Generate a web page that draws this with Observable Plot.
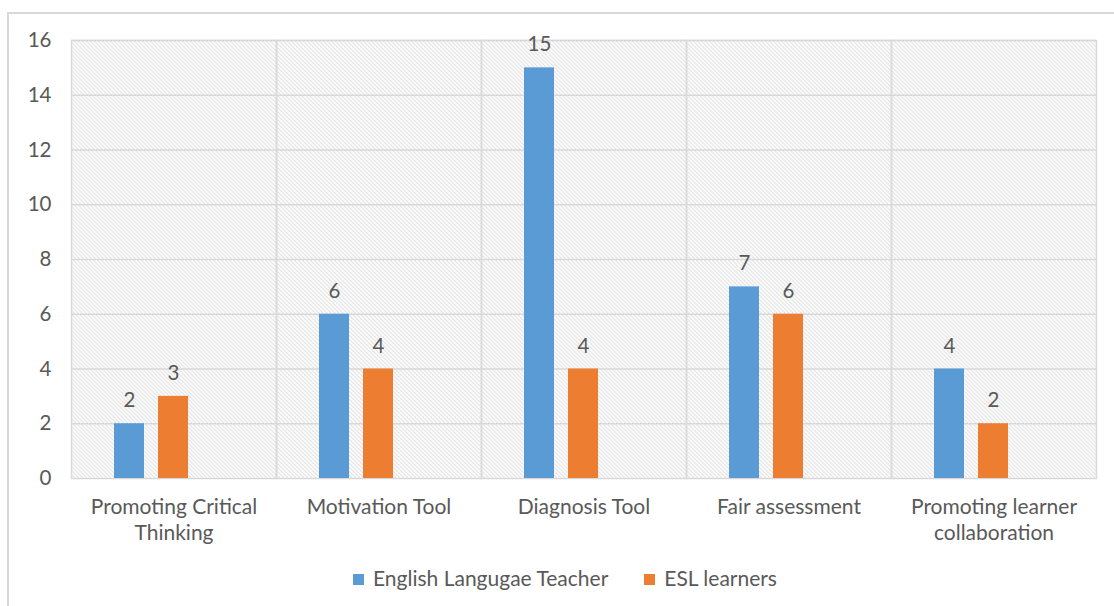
<!DOCTYPE html>
<html><head><meta charset="utf-8">
<script src="https://cdn.jsdelivr.net/npm/d3@7"></script>
<script src="https://cdn.jsdelivr.net/npm/@observablehq/plot@0.6"></script>
<style>
body{margin:0;background:#fff;font-family:Lato,"Open Sans",sans-serif;overflow:hidden;}
#wrap{position:relative;width:1114px;height:606px;overflow:hidden;}
#border{position:absolute;left:7px;top:12px;width:1120px;height:620px;border:2px solid #d9d9d9;box-sizing:border-box;}
#chart{position:absolute;left:0;top:0;}
#legend{position:absolute;left:8px;top:565px;width:1114px;display:flex;justify-content:center;gap:36px;font-size:21px;color:#595959;line-height:26px;}
#legend span.sw{display:inline-block;width:11px;height:11px;margin-right:9px;vertical-align:middle;position:relative;top:-1px;}
</style></head>
<body><div id="wrap"><div id="border"></div><div id="chart"></div><div id="legend"></div></div>
<script>
const categories = ["Promoting Critical Thinking","Motivation Tool","Diagnosis Tool","Fair assessment","Promoting learner collaboration"];
const categoryLabels = ["Promoting Critical\nThinking","Motivation Tool","Diagnosis Tool","Fair assessment","Promoting learner\ncollaboration"];
const series = ["English Langugae Teacher","ESL learners"];
const teacherValues = [2,6,15,7,4];
const eslValues = [3,4,4,6,2];
const colors = ["#5B9BD5","#ED7D31"];
const yTicks = [0,2,4,6,8,10,12,14,16];

const data = [];
categories.forEach((c,i)=>{
  data.push({category:c, series:series[0], value:teacherValues[i]});
  data.push({category:c, series:series[1], value:eslValues[i]});
});
const labelRows = categories.map((c,i)=>({category:c, label:categoryLabels[i]}));

const svg = Plot.plot({
  width:1114, height:550,
  marginLeft:70, marginRight:17, marginTop:40, marginBottom:72,
  style:{fontFamily:"Lato, 'Open Sans', sans-serif", fontSize:"20.5px", color:"#595959", background:"transparent"},
  fx:{domain:categories, padding:0, axis:null},
  x:{domain:[series[0],series[1],"_"], paddingInner:0.31, paddingOuter:0.94, axis:null},
  y:{domain:[0,16], ticks:yTicks, tickSize:0, tickPadding:20, label:null, tickFormat:d=>String(d)},
  color:{domain:series, range:colors},
  marks:[
    Plot.frame({fill:"#fefefe", stroke:"none"}),
    Plot.ruleY(yTicks.filter(d=>d>0), {stroke:"#d9d9d9", strokeWidth:1.5}),
    Plot.frame({stroke:"#d9d9d9", strokeWidth:1.5}),
    Plot.barY(data, {fx:"category", x:"series", y:"value", fill:"series"}),
    Plot.text(data, {fx:"category", x:"series", y:"value", text:d=>String(d.value), dy:-23, fill:"#595959", fontSize:20.5}),
    Plot.text(labelRows, {fx:"category", text:"label", frameAnchor:"bottom", lineAnchor:"top", dy:17, fill:"#595959", fontSize:21, lineHeight:1.24})
  ]
});

const ns = "http://www.w3.org/2000/svg";
const defs = document.createElementNS(ns,"defs");
defs.innerHTML = '<pattern id="hatch" patternUnits="userSpaceOnUse" width="4" height="4"><rect width="4" height="4" fill="#ffffff"/><path d="M0,0 L4,4 M-1,3 L1,5 M3,-1 L5,1" stroke="#cdcdcd" stroke-width="1"/></pattern>';
svg.insertBefore(defs, svg.firstChild);
svg.querySelectorAll('[fill="#fefefe"]').forEach(e=>e.setAttribute('fill','url(#hatch)'));
document.getElementById("chart").appendChild(svg);

const legend = document.getElementById("legend");
series.forEach((s,i)=>{
  const item = document.createElement("div");
  item.innerHTML = `<span class="sw" style="background:${colors[i]}"></span>${s}`;
  legend.appendChild(item);
});
</script></body></html>
